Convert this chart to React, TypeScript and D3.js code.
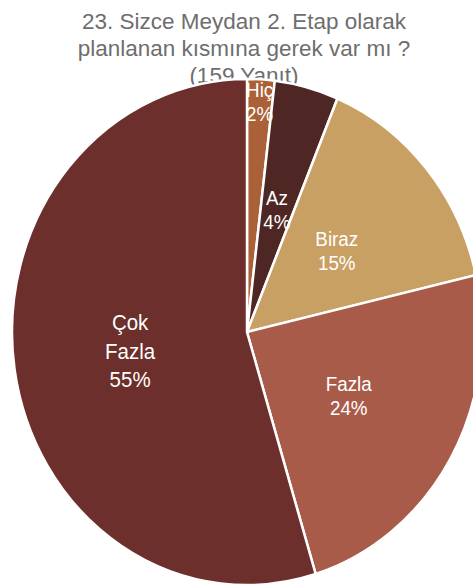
import React from "react";
import * as d3 from "d3";

const categories = ["Hiç", "Az", "Biraz", "Fazla", "Çok Fazla"];
const counts = [3, 7, 24, 38, 87];
const percentLabels = ["2%", "4%", "15%", "24%", "55%"];
const colors = ["#AA6137", "#4E2724", "#C9A063", "#A95B4A", "#6C2F2B"];
const titleLines = ["23. Sizce Meydan 2. Etap olarak", "planlanan kısmına gerek var mı ?", "(159 Yanıt)"];

const W = 473;
const H = 588;
const cx = 247;
const cy = 332;
const rx = 235;
const ry = 253;

export default function App() {
  const pie = d3.pie<number>().sort(null).value((d) => d);
  const arcs = pie(counts);
  const arcGen = d3.arc<d3.PieArcDatum<number>>().innerRadius(0).outerRadius(rx);
  const sy = ry / rx;
  const total = d3.sum(counts);

  return (
    <svg width={W} height={H} style={{ position: "absolute", left: 0, top: 0 }} fontFamily="'Liberation Sans', Arial, sans-serif">
      <rect width={W} height={H} fill="#ffffff" />
      <g fill="#6e6e6e" fontSize={22.5} textAnchor="middle">
        {titleLines.map((t, i) => (
          <text key={i} x={244} y={29 + i * 27}>{t}</text>
        ))}
      </g>
      <g transform={`translate(${cx},${cy}) scale(1,${sy})`}>
        {arcs.map((a, i) => (
          <path
            key={i}
            d={arcGen(a) || ""}
            fill={colors[i]}
            stroke="#ffffff"
            strokeWidth={2.5}
            strokeLinejoin="miter"
            vectorEffect="non-scaling-stroke"
          />
        ))}
      </g>
      <g fill="#ffffff" textAnchor="middle">
        {arcs.map((a, i) => {
          const share = a.value / total;
          const f = share < 0.03 ? 0.91 : share > 0.4 ? 0.503 : 0.5;
          const mid = (a.startAngle + a.endAngle) / 2;
          const x = cx + Math.sin(mid) * rx * f;
          const y = cy - Math.cos(mid) * ry * f;
          const big = share > 0.4;
          const fs = big ? 20.5 : 18.8;
          const lh = big ? 28.5 : 24;
          const words = categories[i].split(" ");
          const lines = [...words, percentLabels[i]];
          const n = lines.length;
          return (
            <g key={i} transform={`translate(${x},${y}) scale(1,${sy})`}>
              <text fontSize={fs}>
                {lines.map((l, j) => (
                  <tspan key={j} x={0} y={((j - (n - 1) / 2) * lh) / sy + fs * 0.36}>
                    {l}
                  </tspan>
                ))}
              </text>
            </g>
          );
        })}
      </g>
    </svg>
  );
}
